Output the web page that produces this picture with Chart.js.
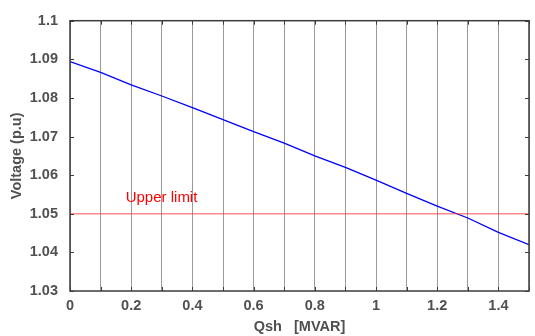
<!DOCTYPE html>
<html>
<head>
<meta charset="utf-8">
<script src="https://cdn.jsdelivr.net/npm/chart.js@4"></script>
<style>
  html, body { margin: 0; padding: 0; background: #fff; }
  #wrap { width: 535px; height: 336px; }
</style>
</head>
<body>
<div id="wrap"><canvas id="c" width="535" height="336"></canvas></div>
<script>
// shunt reactive power [MVAR] vs bus voltage [p.u]
var qsh = [0, 0.1, 0.2, 0.3, 0.4, 0.5, 0.6, 0.7, 0.8, 0.9, 1.0, 1.1, 1.2, 1.3, 1.4, 1.5];
var voltage = [1.0894, 1.0866, 1.0834, 1.0805, 1.0775, 1.0744, 1.0713, 1.0683,
               1.0650, 1.0620, 1.0587, 1.0553, 1.0520, 1.0489, 1.0452, 1.0420];
var upperLimit = 1.05;
var limitLabel = 'Upper limit';

var xMin = 0, xMax = 1.5, yMin = 1.03, yMax = 1.1;

var axisColor = '#3c3c3c';
var labelColor = '#505050';
var fontFamily = '"Liberation Sans", Arial, sans-serif';

// box around the plot and small inward ticks, like the usual matlab axes
var boxPlugin = {
  id: 'box',
  afterDatasetsDraw: function(chart) {
    var ctx = chart.ctx, a = chart.chartArea;
    var xs = chart.scales.x, ys = chart.scales.y;
    ctx.save();
    ctx.strokeStyle = axisColor;
    ctx.lineWidth = 1;
    ctx.beginPath();
    xs.ticks.forEach(function(t) {
      var px = Math.round(xs.getPixelForValue(t.value)) + 0.5;
      ctx.moveTo(px, a.bottom); ctx.lineTo(px, a.bottom - 4);
      ctx.moveTo(px, a.top); ctx.lineTo(px, a.top + 4);
    });
    ys.ticks.forEach(function(t) {
      var py = Math.round(ys.getPixelForValue(t.value)) + 0.5;
      ctx.moveTo(a.left, py); ctx.lineTo(a.left + 4, py);
      ctx.moveTo(a.right, py); ctx.lineTo(a.right - 4, py);
    });
    ctx.stroke();
    ctx.lineWidth = 1.5;
    ctx.strokeRect(a.left, a.top, a.right - a.left, a.bottom - a.top);

    // label for the limit line
    ctx.fillStyle = '#ff0000';
    ctx.font = '15px ' + fontFamily;
    ctx.textBaseline = 'alphabetic';
    ctx.textAlign = 'left';
    ctx.fillText(limitLabel, xs.getPixelForValue(0.182), ys.getPixelForValue(upperLimit) - 11.5);
    ctx.restore();
  }
};

var limitPoints = [{x: xMin, y: upperLimit}, {x: xMax, y: upperLimit}];
var curvePoints = qsh.map(function(q, i) { return {x: q, y: voltage[i]}; });

new Chart(document.getElementById('c'), {
  type: 'line',
  data: {
    datasets: [
      {
        data: limitPoints,
        borderColor: 'rgba(255, 60, 60, 0.6)',
        borderWidth: 1.5,
        pointRadius: 0,
        tension: 0
      },
      {
        data: curvePoints,
        borderColor: '#0000ff',
        borderWidth: 1.3,
        pointRadius: 0,
        tension: 0
      }
    ]
  },
  plugins: [boxPlugin],
  options: {
    responsive: false,
    animation: false,
    layout: { padding: { top: 16, right: 3, left: 0, bottom: 0 } },
    plugins: { legend: { display: false }, tooltip: { enabled: false } },
    scales: {
      x: {
        type: 'linear',
        min: xMin, max: xMax,
        border: { display: false },
        grid: { color: '#9a9a9a', lineWidth: 1, drawTicks: false },
        afterFit: function(s) { s.height = 45; },
        ticks: {
          stepSize: 0.1,
          autoSkip: false,
          maxRotation: 0,
          padding: 6,
          color: labelColor,
          font: { family: fontFamily, size: 14.5, weight: 'bold' },
          callback: function(v) {
            var k = Math.round(v * 10);
            return k % 2 === 0 ? String(k / 10) : '';
          }
        },
        title: {
          display: true,
          text: 'Qsh   [MVAR]',
          color: labelColor,
          padding: { top: 0, bottom: 0 },
          font: { family: fontFamily, size: 14.5, weight: 'bold' }
        }
      },
      y: {
        min: yMin, max: yMax,
        border: { display: false },
        grid: { display: false, drawTicks: false },
        afterFit: function(s) { s.width = 70; },
        ticks: {
          stepSize: 0.01,
          padding: 12,
          color: labelColor,
          font: { family: fontFamily, size: 14.5, weight: 'bold' },
          callback: function(v) { return String(Number(v.toFixed(2))); }
        },
        title: {
          display: true,
          text: 'Voltage (p.u)',
          color: labelColor,
          padding: { top: 8, bottom: 0 },
          font: { family: fontFamily, size: 14.5, weight: 'bold' }
        }
      }
    }
  }
});
</script>
</body>
</html>
